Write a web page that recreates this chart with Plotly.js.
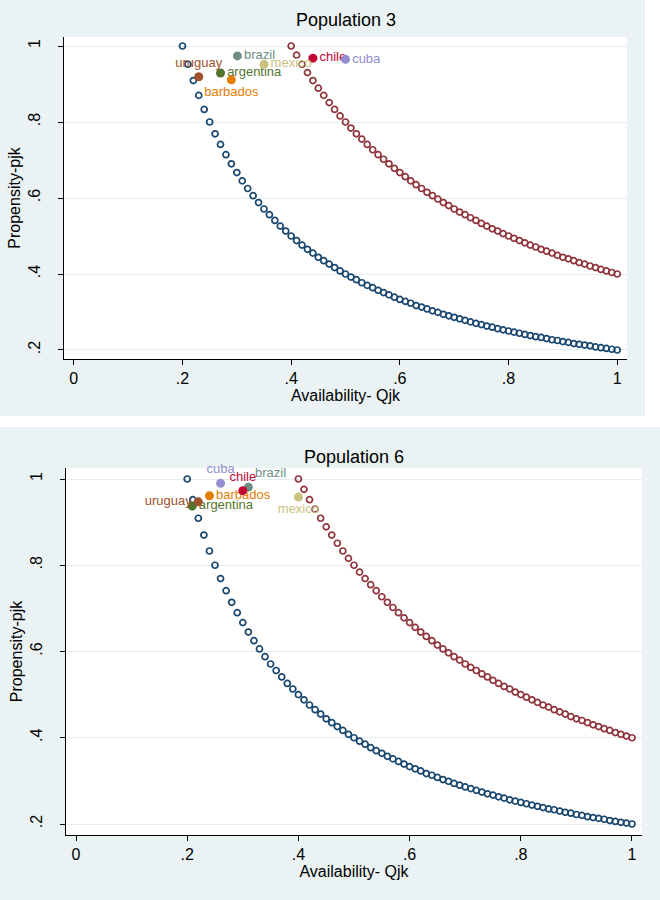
<!DOCTYPE html>
<html>
<head>
<meta charset="utf-8">
<script src="https://cdn.plot.ly/plotly-3.0.1.min.js"></script>
<style>html,body{margin:0;padding:0;background:#fff;}#chart{width:660px;height:900px;}</style>
</head>
<body>
<div id="chart"></div>
<script>
// ---- Data ----
const qjk = [0.20,0.21,0.22,0.23,0.24,0.25,0.26,0.27,0.28,0.29,0.30,0.31,0.32,0.33,0.34,0.35,0.36,0.37,0.38,0.39,
  0.40,0.41,0.42,0.43,0.44,0.45,0.46,0.47,0.48,0.49,0.50,0.51,0.52,0.53,0.54,0.55,0.56,0.57,0.58,0.59,
  0.60,0.61,0.62,0.63,0.64,0.65,0.66,0.67,0.68,0.69,0.70,0.71,0.72,0.73,0.74,0.75,0.76,0.77,0.78,0.79,
  0.80,0.81,0.82,0.83,0.84,0.85,0.86,0.87,0.88,0.89,0.90,0.91,0.92,0.93,0.94,0.95,0.96,0.97,0.98,0.99,1.00];
const pjkLow = [1.000,0.952,0.909,0.870,0.833,0.800,0.769,0.741,0.714,0.690,0.667,0.645,0.625,0.606,0.588,0.571,0.556,0.541,0.526,0.513,
  0.500,0.488,0.476,0.465,0.455,0.444,0.435,0.426,0.417,0.408,0.400,0.392,0.385,0.377,0.370,0.364,0.357,0.351,0.345,0.339,
  0.333,0.328,0.323,0.317,0.313,0.308,0.303,0.299,0.294,0.290,0.286,0.282,0.278,0.274,0.270,0.267,0.263,0.260,0.256,0.253,
  0.250,0.247,0.244,0.241,0.238,0.235,0.233,0.230,0.227,0.225,0.222,0.220,0.217,0.215,0.213,0.211,0.208,0.206,0.204,0.202,0.200];
const qjkHigh = [0.40,0.41,0.42,0.43,0.44,0.45,0.46,0.47,0.48,0.49,0.50,0.51,0.52,0.53,0.54,0.55,0.56,0.57,0.58,0.59,
  0.60,0.61,0.62,0.63,0.64,0.65,0.66,0.67,0.68,0.69,0.70,0.71,0.72,0.73,0.74,0.75,0.76,0.77,0.78,0.79,
  0.80,0.81,0.82,0.83,0.84,0.85,0.86,0.87,0.88,0.89,0.90,0.91,0.92,0.93,0.94,0.95,0.96,0.97,0.98,0.99,1.00];
const pjkHigh = [1.000,0.976,0.952,0.930,0.909,0.889,0.870,0.851,0.833,0.816,0.800,0.784,0.769,0.755,0.741,0.727,0.714,0.702,0.690,0.678,
  0.667,0.656,0.645,0.635,0.625,0.615,0.606,0.597,0.588,0.580,0.571,0.563,0.556,0.548,0.541,0.533,0.526,0.519,0.513,0.506,
  0.500,0.494,0.488,0.482,0.476,0.471,0.465,0.460,0.455,0.449,0.444,0.440,0.435,0.430,0.426,0.421,0.417,0.412,0.408,0.404,0.400];

const countries = ["argentina","barbados","brazil","chile","cuba","mexico","uruguay"];
// Population 3
const pop3Q = [0.270,0.290,0.301,0.440,0.500,0.350,0.230];
const pop3P = [0.929,0.911,0.974,0.968,0.965,0.952,0.919];
// Population 6
const pop6Q = [0.209,0.240,0.310,0.300,0.260,0.400,0.220];
const pop6P = [0.937,0.961,0.981,0.973,0.990,0.958,0.947];

const xTickVals = [0,0.2,0.4,0.6,0.8,1];
const xTickText = ["0",".2",".4",".6",".8","1"];
const yTickVals = [0.2,0.4,0.6,0.8,1];
const yTickText = [".2",".4",".6",".8","1"];
const panelTitles = ["Population 3","Population 6"];
const xTitle = "Availability- Qjk";
const yTitle = "Propensity-pjk";

// ---- Styles ----
const countryColors = {argentina:"#55752f",barbados:"#e37e00",brazil:"#6e8e84",chile:"#c10534",
  cuba:"#938dd2",mexico:"#cac27e",uruguay:"#a0522d"};
const pos3 = {argentina:"middle right",barbados:"bottom center",brazil:"middle right",chile:"middle right",
  cuba:"middle right",mexico:"middle right",uruguay:"top center"};
const pos6 = {argentina:"middle right",barbados:"middle right",brazil:"top right",chile:"top center",
  cuba:"top center",mexico:"bottom center",uruguay:"middle left"};
const FONT = "Liberation Sans, Arial, Helvetica, sans-serif";
const BLUE = "#1a476f", RED = "#90353b", PANEL = "#eaf2f3", GRID = "#e4edef";

const traces = [];
function addPanel(xa, ya, cq, cp, pos){
  traces.push({x:qjk, y:pjkLow, xaxis:xa, yaxis:ya, type:"scatter", mode:"markers", hoverinfo:"skip",
    marker:{symbol:"circle-open", size:6, color:BLUE, line:{width:1.7, color:BLUE}}});
  traces.push({x:qjkHigh, y:pjkHigh, xaxis:xa, yaxis:ya, type:"scatter", mode:"markers", hoverinfo:"skip",
    marker:{symbol:"circle-open", size:6, color:RED, line:{width:1.7, color:RED}}});
  countries.forEach((c,i)=>{
    traces.push({x:[cq[i]], y:[cp[i]], text:[c], xaxis:xa, yaxis:ya, type:"scatter", mode:"markers+text",
      textposition:pos[c], cliponaxis:false,
      textfont:{family:FONT, size:13, color:countryColors[c]},
      marker:{size:9, color:countryColors[c]}});
  });
}
addPanel("x","y",pop3Q,pop3P,pos3);
addPanel("x2","y2",pop6Q,pop6P,pos6);

function xAxis(domain, anchor){
  return {domain:domain, anchor:anchor, range:[-0.018,1.018], tickvals:xTickVals, ticktext:xTickText,
    ticks:"outside", ticklen:5, tickcolor:"#000", tickwidth:1, showline:true, linecolor:"#000", linewidth:1,
    showgrid:false, zeroline:false, tickfont:{family:FONT,size:16,color:"#000"},
    title:{text:xTitle, font:{family:FONT,size:16,color:"#000"}, standoff:0}};
}
function yAxis(domain, anchor, range){
  return {domain:domain, anchor:anchor, range:range, tickvals:yTickVals, ticktext:yTickText, tickangle:-90,
    ticks:"outside", ticklen:5, tickcolor:"#000", tickwidth:1, showline:true, linecolor:"#000", linewidth:1,
    showgrid:true, gridcolor:GRID, gridwidth:1, zeroline:false, tickfont:{family:FONT,size:16,color:"#000"},
    ticklabelstandoff:12,
    title:{text:yTitle, font:{family:FONT,size:16,color:"#000"}, standoff:0}};
}

const layout = {
  width:660, height:900, margin:{l:0,r:0,t:0,b:0},
  paper_bgcolor:PANEL, plot_bgcolor:"#fff", showlegend:false,
  xaxis:xAxis([64/660, 627/660],"y"),
  yaxis:yAxis([1-359/900, 1-37/900],"x",[0.1763,1.0237]),
  xaxis2:xAxis([66/660, 642/660],"y2"),
  yaxis2:yAxis([1-835/900, 1-468/900],"x2",[0.1745,1.0255]),
  shapes:[
    {type:"rect", xref:"paper", yref:"paper", x0:645/660, x1:1, y0:1-416/900, y1:1, fillcolor:"#fff", line:{width:0}, layer:"below"},
    {type:"rect", xref:"paper", yref:"paper", x0:0, x1:1, y0:1-427/900, y1:1-416/900, fillcolor:"#fff", line:{width:0}, layer:"below"}
  ],
  annotations:[
    {text:panelTitles[0], xref:"paper", yref:"paper", x:(64+627)/2/660, y:1-20/900, xanchor:"center", yanchor:"middle",
      showarrow:false, font:{family:FONT,size:18,color:"#000"}},
    {text:panelTitles[1], xref:"paper", yref:"paper", x:(66+642)/2/660, y:1-457/900, xanchor:"center", yanchor:"middle",
      showarrow:false, font:{family:FONT,size:18,color:"#000"}}
  ]
};
Plotly.newPlot("chart", traces, layout, {displayModeBar:false, staticPlot:true});
</script>
</body>
</html>
